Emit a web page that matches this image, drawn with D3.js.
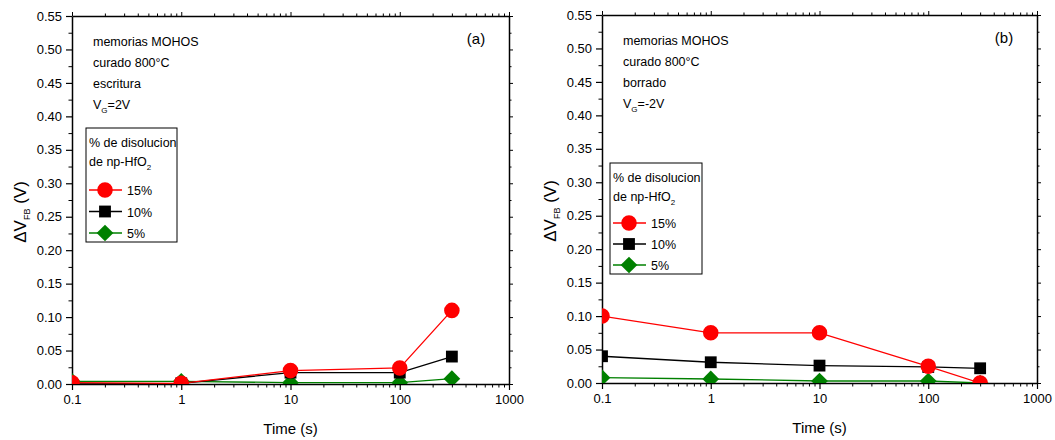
<!DOCTYPE html>
<html>
<head>
<meta charset="utf-8">
<script src="https://cdn.jsdelivr.net/npm/d3@7"></script>
<style>
  body { margin: 0; background: #fff; }
  svg { display: block; font-family: "Liberation Sans", Arial, sans-serif; }
</style>
</head>
<body>
<svg id="chart" width="1055" height="440"></svg>
<script>
// ---- data ----
const times = [0.1, 1, 10, 100, 300];
const seriesNames = ["15%", "10%", "5%"];
// panel (a): escritura
const writeP15 = [0.002, 0.001, 0.020, 0.024, 0.110];
const writeP10 = [0.000, 0.001, 0.017, 0.017, 0.041];
const writeP5  = [0.004, 0.004, 0.002, 0.002, 0.008];
// panel (b): borrado
const eraseP15 = [0.100, 0.075, 0.075, 0.025, 0.000];
const eraseP10 = [0.040, 0.031, 0.026, 0.024, 0.022];
const eraseP5  = [0.008, 0.006, 0.003, 0.003, 0.000];
const yTicks = [0.00, 0.05, 0.10, 0.15, 0.20, 0.25, 0.30, 0.35, 0.40, 0.45, 0.50, 0.55];
const xTicks = [0.1, 1, 10, 100, 1000];
const xTickLabels = ["0.1", "1", "10", "100", "1000"];

const colors = ["#ff0000", "#000000", "#008000"];

const svg = d3.select("#chart");

function drawPanel(cfg) {
  const { left, right, top, bottom, data, id } = cfg;
  const x = d3.scaleLog().domain([0.1, 1000]).range([left, right]);
  const y = d3.scaleLinear().domain([0, 0.55]).range([bottom, top]);
  const g = svg.append("g");

  svg.append("defs").append("clipPath").attr("id", "clip" + id)
    .append("rect").attr("x", left).attr("y", top).attr("width", right - left).attr("height", bottom - top);

  const xMinor = [];
  for (let d = 0.1; d < 1000; d *= 10) for (let k = 2; k <= 9; k++) xMinor.push(+(d * k).toPrecision(3));
  const yMinor = d3.range(0.025, 0.55, 0.05);

  const axisStyle = sel => sel.select(".domain").attr("stroke", "#000").attr("stroke-width", 1.5);

  const bAx = g.append("g").attr("transform", `translate(0,${bottom})`)
    .call(d3.axisBottom(x).tickValues(xTicks).tickFormat((d, i) => xTickLabels[i]).tickSizeInner(6).tickSizeOuter(0).tickPadding(5));
  axisStyle(bAx);
  bAx.selectAll(".tick line").attr("stroke-width", 1.2);
  bAx.selectAll(".tick text").attr("font-size", 13).attr("fill", "#000");
  g.append("g").attr("transform", `translate(0,${bottom})`)
    .call(d3.axisBottom(x).tickValues(xMinor).tickFormat("").tickSizeInner(3.5).tickSizeOuter(0))
    .call(s => s.select(".domain").remove()).selectAll("line").attr("stroke-width", 1);

  const tAx = g.append("g").attr("transform", `translate(0,${top})`)
    .call(d3.axisTop(x).tickValues(xTicks).tickFormat("").tickSizeInner(4).tickSizeOuter(0));
  axisStyle(tAx);
  g.append("g").attr("transform", `translate(0,${top})`)
    .call(d3.axisTop(x).tickValues(xMinor).tickFormat("").tickSizeInner(2.5).tickSizeOuter(0))
    .call(s => s.select(".domain").remove());

  const lAx = g.append("g").attr("transform", `translate(${left},0)`)
    .call(d3.axisLeft(y).tickValues(yTicks).tickFormat(d3.format(".2f")).tickSizeInner(6).tickSizeOuter(0).tickPadding(4));
  axisStyle(lAx);
  lAx.selectAll(".tick line").attr("stroke-width", 1.2);
  lAx.selectAll(".tick text").attr("font-size", 13).attr("fill", "#000");
  g.append("g").attr("transform", `translate(${left},0)`)
    .call(d3.axisLeft(y).tickValues(yMinor).tickFormat("").tickSizeInner(3.5).tickSizeOuter(0))
    .call(s => s.select(".domain").remove());

  const rAx = g.append("g").attr("transform", `translate(${right},0)`)
    .call(d3.axisRight(y).tickValues(yTicks).tickFormat("").tickSizeInner(4).tickSizeOuter(0));
  axisStyle(rAx);
  g.append("g").attr("transform", `translate(${right},0)`)
    .call(d3.axisRight(y).tickValues(yMinor).tickFormat("").tickSizeInner(2.5).tickSizeOuter(0))
    .call(s => s.select(".domain").remove());

  g.append("text").attr("x", (left + right) / 2).attr("y", bottom + 50)
    .attr("text-anchor", "middle").attr("font-size", 15).text("Time (s)");
  const yl = g.append("text").attr("transform", `translate(${left - 46},${cfg.ylabelY}) rotate(-90)`)
    .attr("text-anchor", "middle").attr("font-size", 17);
  yl.append("tspan").text("\u0394V");
  yl.append("tspan").attr("font-size", 9).attr("dy", 4).text("FB");
  yl.append("tspan").attr("dy", -4).text(" (V)");

  const plot = g.append("g").attr("clip-path", `url(#clip${id})`);
  const line = d3.line().x((d, i) => x(times[i])).y(d => y(d));
  const symGen = [
    d3.symbol().type(d3.symbolCircle).size(190),
    d3.symbol().type(d3.symbolSquare).size(140),
    d3.symbol().type(d3.symbolSquare).size(140)
  ];
  const rot = [0, 0, 45];
  [2, 1, 0].forEach(si => {
    plot.append("path").datum(data[si]).attr("d", line)
      .attr("fill", "none").attr("stroke", colors[si]).attr("stroke-width", 1.3);
  });
  [2, 1, 0].forEach(si => {
    plot.selectAll(null).data(data[si]).enter().append("path")
      .attr("d", symGen[si])
      .attr("transform", (d, i) => `translate(${x(times[i])},${y(d)}) rotate(${rot[si]})`)
      .attr("fill", colors[si]);
  });

  const ax = left + 21;
  cfg.notes.forEach((t, i) => {
    const tx = g.append("text").attr("x", ax).attr("y", top + 30 + i * 21).attr("font-size", 12.5);
    if (typeof t === "object") {
      tx.append("tspan").text("V");
      tx.append("tspan").attr("font-size", 8).attr("dy", 4).text("G");
      tx.append("tspan").attr("dy", -4).text(t.rest);
    } else tx.text(t);
  });
  g.append("text").attr("x", right - 33).attr("y", top + 28).attr("text-anchor", "middle")
    .attr("font-size", 15).text(cfg.tag);

  const L = cfg.legend;
  g.append("rect").attr("x", L.x).attr("y", L.y).attr("width", L.w).attr("height", L.h)
    .attr("fill", "#fff").attr("stroke", "#000").attr("stroke-width", 1);
  g.append("text").attr("x", L.x + 3).attr("y", L.y + 19).attr("font-size", 12.5).text("% de disolucion");
  const t2 = g.append("text").attr("x", L.x + 3).attr("y", L.y + 38).attr("font-size", 12.5);
  t2.append("tspan").text("de np-HfO");
  t2.append("tspan").attr("font-size", 8).attr("dy", 4).text("2");
  seriesNames.forEach((n, si) => {
    const ry = L.y + L.row0 + si * L.rowH;
    g.append("line").attr("x1", L.x + 3).attr("x2", L.x + 36).attr("y1", ry).attr("y2", ry)
      .attr("stroke", colors[si]).attr("stroke-width", 1.3);
    g.append("path").attr("d", symGen[si]).attr("transform", `translate(${L.x + 19},${ry}) rotate(${rot[si]})`).attr("fill", colors[si]);
    g.append("text").attr("x", L.x + 41).attr("y", ry + 5).attr("font-size", 12.5).text(n);
  });
}

drawPanel({
  id: "a", left: 72, right: 509, top: 16, bottom: 384, ylabelY: 212,
  data: [writeP15, writeP10, writeP5], tag: "(a)",
  notes: ["memorias MOHOS", "curado 800°C", "escritura", { rest: "=2V" }],
  legend: { x: 86, y: 128, w: 91, h: 114, row0: 62, rowH: 21.5 }
});
drawPanel({
  id: "b", left: 602, right: 1037, top: 15, bottom: 383, ylabelY: 211,
  data: [eraseP15, eraseP10, eraseP5], tag: "(b)",
  notes: ["memorias MOHOS", "curado 800°C", "borrado", { rest: "=-2V" }],
  legend: { x: 610, y: 163, w: 92, h: 111, row0: 60, rowH: 21 }
});
</script>
</body>
</html>
